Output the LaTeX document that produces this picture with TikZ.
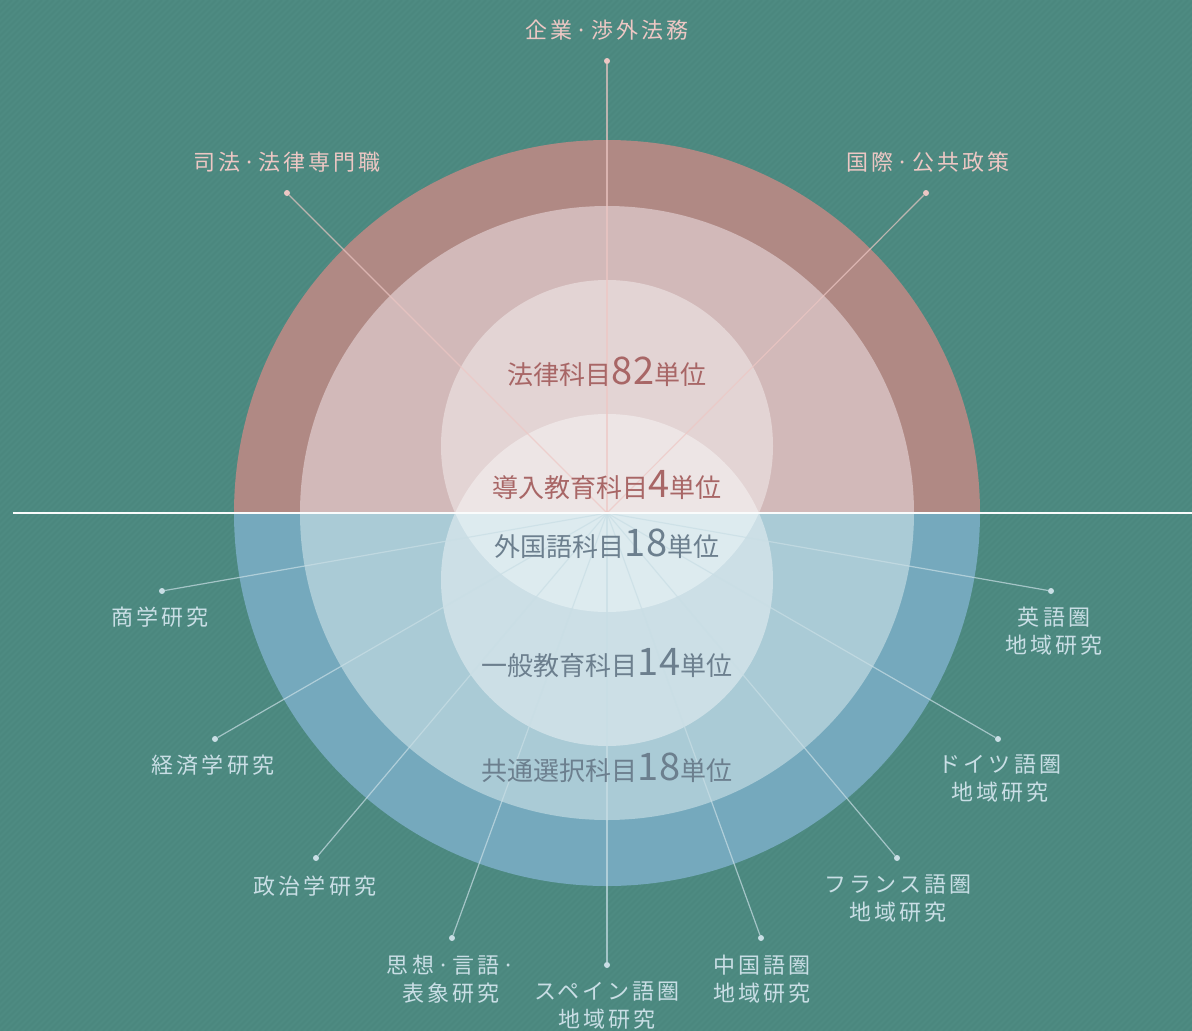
\documentclass[tikz,border=0pt]{standalone}
\usepackage{fontspec}
\usepackage{tikz}
\usepackage{xcolor}

\newfontfamily\jplabel[LetterSpace=14]{Noto Sans CJK JP}
\newfontfamily\jpcore{Noto Sans CJK JP}

\definecolor{bgteal}{HTML}{4E8B82}
\definecolor{bgstripe}{HTML}{4B877E}
\definecolor{redouter}{HTML}{B08984}
\definecolor{redmid}{HTML}{D2B9B9}
\definecolor{redinner}{HTML}{E3D4D4}
\definecolor{redlens}{HTML}{EDE5E5}
\definecolor{blueouter}{HTML}{75A9BD}
\definecolor{bluemid}{HTML}{AACBD6}
\definecolor{blueinner}{HTML}{CCDFE6}
\definecolor{bluelens}{HTML}{DDEBEF}
\definecolor{pinktext}{HTML}{EDC7C4}
\definecolor{bluetext}{HTML}{C9DEE5}
\definecolor{redcore}{HTML}{A86666}
\definecolor{bluecore}{HTML}{6C7F8E}

\newcommand{\unitnum}[1]{{\fontsize{38}{38}\selectfont #1}}

\begin{document}
\begin{tikzpicture}
[
  x=1pt, y=-1pt,
  lbltop/.style={text=pinktext, font=\jplabel\fontsize{22}{28}\selectfont, align=center, inner sep=0pt},
  lblbot/.style={text=bluetext, font=\jplabel\fontsize{22}{28}\selectfont, align=center, inner sep=0pt},
  coretop/.style={text=redcore, font=\jpcore\fontsize{26}{26}\selectfont, inner sep=0pt},
  corebot/.style={text=bluecore, font=\jpcore\fontsize{26}{26}\selectfont, inner sep=0pt},
  dottop/.style={circle, fill=pinktext, inner sep=0pt, minimum size=6pt},
  dotbot/.style={circle, fill=bluetext, inner sep=0pt, minimum size=6pt},
  spoketop/.style={draw=pinktext, line width=1.2pt, draw opacity=0.7},
  spokebot/.style={draw=bluetext, line width=1.2pt, draw opacity=0.7}
]

\useasboundingbox (0,0) rectangle (1192,1031);

% background with fine stripes
\fill[bgteal] (0,0) rectangle (1192,1031);
\begin{scope}
\clip (0,0) rectangle (1192,1031);
\foreach \s in {0,6,...,2230}
  \draw[bgstripe, line width=1.5pt] (\s,0) -- (\s-1031,1031);
\end{scope}

% upper half
\begin{scope}
\clip (0,0) rectangle (1192,513);
\fill[redouter] (607,513) circle (373pt);
\fill[redmid] (607,513) circle (307pt);
\fill[redinner] (607,446) circle (166pt);
\fill[redlens] (607,580) circle (166pt);
\end{scope}

% lower half
\begin{scope}
\clip (0,513) rectangle (1192,1031);
\fill[blueouter] (607,513) circle (373pt);
\fill[bluemid] (607,513) circle (307pt);
\fill[blueinner] (607,580) circle (166pt);
\fill[bluelens] (607,446) circle (166pt);
\end{scope}

\coordinate (c) at (607,513);

% end points
\node[dottop] (dkigyo) at (607,61) {};
\node[dottop] (dshiho) at (287,193) {};
\node[dottop] (dkokusai) at (926,193) {};

\node[dotbot] (dshogaku) at (162,591) {};
\node[dotbot] (dkeizai) at (215,739) {};
\node[dotbot] (dseiji) at (316,858) {};
\node[dotbot] (dshiso) at (452,938) {};
\node[dotbot] (dspain) at (607,965) {};
\node[dotbot] (dchugoku) at (761,938) {};
\node[dotbot] (dfrance) at (897,858) {};
\node[dotbot] (ddoitsu) at (998,739) {};
\node[dotbot] (deigo) at (1051,591) {};

\path[spoketop]
(c) edge (dkigyo)
(c) edge (dshiho)
(c) edge (dkokusai);

\path[spokebot]
(c) edge (dshogaku)
(c) edge (dkeizai)
(c) edge (dseiji)
(c) edge (dshiso)
(c) edge (dspain)
(c) edge (dchugoku)
(c) edge (dfrance)
(c) edge (ddoitsu)
(c) edge (deigo);

% dividing line
\coordinate (hl) at (13,513);
\coordinate (hr) at (1192,513);
\draw[color=white!90!bluetext, line width=1.2pt] (hl) -- (hr);

% outer labels
\node[lbltop] (kigyo) at (607,30) {企業·渉外法務};
\node[lbltop] (shiho) at (287,162) {司法·法律専門職};
\node[lbltop] (kokusai) at (928,162) {国際·公共政策};

\node[lblbot] (shogaku) at (160,617) {商学研究};
\node[lblbot] (keizai) at (213,765) {経済学研究};
\node[lblbot] (seiji) at (315,886) {政治学研究};
\node[lblbot] (shiso) at (451,979) {思想·言語·\\表象研究};
\node[lblbot] (spain) at (607,1006) {スペイン語圏\\地域研究};
\node[lblbot] (chugoku) at (762,979) {中国語圏\\地域研究};
\node[lblbot] (france) at (898,899) {フランス語圏\\地域研究};
\node[lblbot] (doitsu) at (1000,779) {ドイツ語圏\\地域研究};
\node[lblbot] (eigo) at (1054,631) {英語圏\\地域研究};

% credits
\node[coretop] (horitsu) at (607,372) {法律科目\unitnum{82}単位};
\node[coretop] (donyu) at (607,485) {導入教育科目\unitnum{4}単位};
\node[corebot] (gaikoku) at (607,544) {外国語科目\unitnum{18}単位};
\node[corebot] (ippan) at (607,663) {一般教育科目\unitnum{14}単位};
\node[corebot] (kyotsu) at (607,768) {共通選択科目\unitnum{18}単位};

\end{tikzpicture}
\end{document}
